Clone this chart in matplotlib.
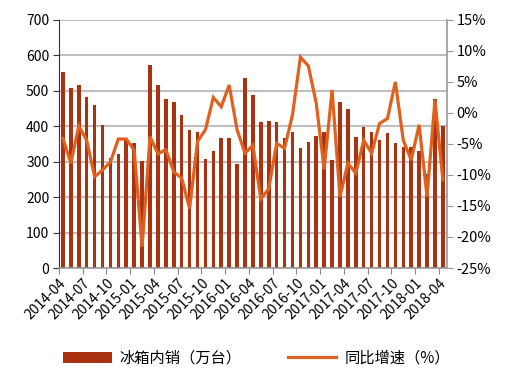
"""Refrigerator domestic sales (bars) with YoY growth (line)."""

import matplotlib
matplotlib.use("Agg")
import matplotlib.pyplot as plt
from matplotlib.ticker import FuncFormatter

plt.rcParams["font.family"] = ["Noto Sans CJK SC", "DejaVu Sans"]

# monthly data, 2014-04 .. 2018-04
months = [f"{2014 + (3 + i) // 12}-{(3 + i) % 12 + 1:02d}" for i in range(49)]
sales = [
    553, 507, 516, 483, 460, 403, 310, 322, 360, 352, 302, 573,
    516, 477, 468, 432, 389, 384, 309, 330, 366, 366, 293, 536,
    487, 411, 414, 411, 366, 384, 339, 355, 372, 385, 304, 468,
    449, 371, 398, 383, 361, 381, 352, 341, 341, 330, 265, 477,
    401,
]
growth = [
    -4.1, -8.1, -2.1, -4.4, -10.3, -9.2, -7.9, -4.2, -4.2, -6.0, -21.6, -3.8,
    -6.6, -5.9, -9.5, -10.5, -15.4, -4.6, -2.7, 2.5, 1.0, 4.5, -2.7, -6.5,
    -5.2, -13.9, -12.2, -4.9, -5.7, -0.3, 9.0, 7.6, 1.6, -9.1, 3.7, -13.5,
    -8.1, -9.7, -4.4, -6.5, -1.7, -0.9, 5.0, -4.4, -7.6, -1.9, -13.5, 2.1,
    -10.8,
]
tick_every = 3

BAR_COLOR = "#A93210"
LINE_COLOR = "#E0611F"
GRID_COLOR = "#BFBFBF"

fig = plt.figure(figsize=(5.13, 3.73), dpi=100)
ax = fig.add_axes([0.115, 0.2815, 0.756, 0.665])
x = list(range(len(months)))

ax.bar(x, sales, width=0.45, color=BAR_COLOR, label="冰箱内销（万台）", zorder=2)
ax.set_ylim(0, 700)
ax.set_yticks(range(0, 701, 100))
ax.set_xlim(-0.5, len(months) - 0.5)
ax.yaxis.grid(True, color=GRID_COLOR, linewidth=1.5, zorder=0)
ax.set_axisbelow(True)

tick_pos = [i - 0.5 for i in range(0, len(months), tick_every)]
ax.set_xticks(tick_pos)
ax.set_xticklabels(months[::tick_every], rotation=45, ha="right",
                   rotation_mode="anchor", fontsize=10)
ax.tick_params(axis="x", length=4, color="#888888", pad=2)
ax.tick_params(axis="y", labelsize=10, length=4, color="#333333", pad=3)

ax.spines["top"].set_visible(False)
ax.spines["right"].set_visible(False)
ax.spines["left"].set_color("#333333")
ax.spines["bottom"].set_color("#999999")
ax.spines["bottom"].set_linewidth(1.2)

ax2 = ax.twinx()
ax2.plot(x, growth, color=LINE_COLOR, linewidth=2.3, label="同比增速（%）",
         solid_joinstyle="miter")
ax2.set_ylim(-25, 15)
ax2.set_yticks(range(-25, 16, 5))
ax2.yaxis.set_major_formatter(FuncFormatter(lambda v, _: f"{v:.0f}%"))
ax2.tick_params(axis="y", labelsize=10.5, length=4, color="#999999", pad=3)
ax2.spines["top"].set_visible(False)
ax2.spines["left"].set_visible(False)
ax2.spines["bottom"].set_visible(False)
ax2.spines["right"].set_color("#999999")
ax2.spines["right"].set_linewidth(1.2)

handles = ax.get_legend_handles_labels()[0] + ax2.get_legend_handles_labels()[0]
labels = ax.get_legend_handles_labels()[1] + ax2.get_legend_handles_labels()[1]
fig.legend(handles, labels, loc="center", bbox_to_anchor=(0.5, 0.04), ncol=2,
           frameon=False, fontsize=11, handlelength=3.2, columnspacing=3,
           handletextpad=0.5)

fig.savefig("out.png", dpi=100)
